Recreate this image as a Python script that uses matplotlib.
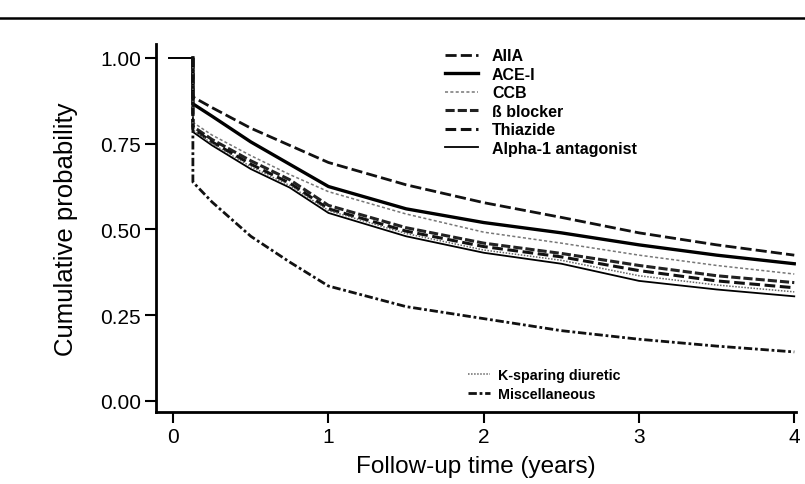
import matplotlib
matplotlib.use("Agg")
import matplotlib.pyplot as plt
from matplotlib.lines import Line2D

plt.rcParams['font.family'] = ['Liberation Sans', 'DejaVu Sans']

# ---- data ----
t_start = -0.03
t_drop = 0.127
times = [0.127, 0.25, 0.5, 0.75, 1.0, 1.5, 2.0, 2.5, 3.0, 3.5, 4.0]

aiia      = [0.886, 0.855, 0.795, 0.745, 0.695, 0.630, 0.578, 0.535, 0.490, 0.455, 0.425]
ace_i     = [0.866, 0.830, 0.755, 0.690, 0.625, 0.560, 0.520, 0.490, 0.455, 0.425, 0.400]
ccb       = [0.812, 0.775, 0.715, 0.660, 0.610, 0.545, 0.492, 0.460, 0.425, 0.395, 0.370]
b_blocker = [0.800, 0.762, 0.700, 0.645, 0.570, 0.505, 0.460, 0.430, 0.395, 0.365, 0.345]
thiazide  = [0.793, 0.755, 0.690, 0.635, 0.560, 0.495, 0.450, 0.420, 0.380, 0.350, 0.330]
alpha1    = [0.784, 0.745, 0.676, 0.622, 0.548, 0.480, 0.432, 0.400, 0.350, 0.325, 0.305]
k_sparing = [0.790, 0.750, 0.683, 0.628, 0.555, 0.488, 0.440, 0.410, 0.365, 0.338, 0.318]
misc      = [0.638, 0.580, 0.480, 0.405, 0.335, 0.275, 0.240, 0.205, 0.180, 0.160, 0.143]

labels_top = ["AIIA", "ACE-I", "CCB", "ß blocker", "Thiazide", "Alpha-1 antagonist"]
labels_bottom = ["K-sparing diuretic", "Miscellaneous"]

xticks = [0, 1, 2, 3, 4]
yticks = [0.0, 0.25, 0.5, 0.75, 1.0]
ytick_labels = ["0.00", "0.25", "0.50", "0.75", "1.00"]

series = [aiia, ace_i, ccb, b_blocker, thiazide, alpha1, k_sparing, misc]
all_labels = labels_top + labels_bottom
styles = [
    dict(color='#111111', lw=2.0, ls=(0, (4, 1.5))),
    dict(color='#000000', lw=2.4, ls='-'),
    dict(color='#777777', lw=1.1, ls=(0, (2, 1.5))),
    dict(color='#222222', lw=2.2, ls=(0, (3, 1))),
    dict(color='#111111', lw=2.2, ls=(0, (3.5, 1.5))),
    dict(color='#000000', lw=1.3, ls='-'),
    dict(color='#666666', lw=1.1, ls=(0, (1, 1))),
    dict(color='#111111', lw=2.0, ls=(0, (3, 1, 1, 1))),
]

fig = plt.figure(figsize=(8.05, 4.85), dpi=100)
ax = fig.add_axes([0.194, 0.1485, 0.7946, 0.7585])

# top frame separator line and common initial segment
fig.add_artist(Line2D([0, 1], [1 - 19 / 485, 1 - 19 / 485], color='black', lw=1.8))
ax.plot([t_start, t_drop], [1.0, 1.0], color='black', lw=1.4)

handles = []
for vals, lab, st in zip(series, all_labels, styles):
    x = [t_drop] + times
    y = [1.0] + vals
    h, = ax.plot(x, y, label=lab, **st)
    handles.append(h)

ax.set_xlim(-0.1095, 4.01)
ax.set_ylim(-0.032, 1.04)
ax.set_xticks(xticks)
ax.set_xticklabels([str(v) for v in xticks], fontsize=15)
ax.set_yticks(yticks)
ax.set_yticklabels(ytick_labels, fontsize=15)
ax.tick_params(direction='out', length=8, width=1.5, pad=3)
for s in ['top', 'right']:
    ax.spines[s].set_visible(False)
for s in ['left', 'bottom']:
    ax.spines[s].set_linewidth(2.0)

ax.set_xlabel("Follow-up time (years)", fontsize=17.5, labelpad=6)
ax.set_ylabel("Cumulative probability", fontsize=18.5)
ax.yaxis.set_label_coords(-0.122, 0.5)

leg1 = ax.legend(handles[:6], labels_top, loc='upper left', bbox_to_anchor=(0.452, 0.989),
                 frameon=False, prop=dict(size=11.5, weight='bold'), handlelength=2.07,
                 labelspacing=0.22, handletextpad=0.85, borderaxespad=0, borderpad=0)
ax.add_artist(leg1)
ax.legend(handles[6:], labels_bottom, loc='upper left', bbox_to_anchor=(0.488, 0.12),
          frameon=False, prop=dict(size=10.3, weight='bold'), handlelength=1.55,
          labelspacing=0.35, handletextpad=0.55, borderaxespad=0, borderpad=0)

fig.savefig("out.png", dpi=100)
